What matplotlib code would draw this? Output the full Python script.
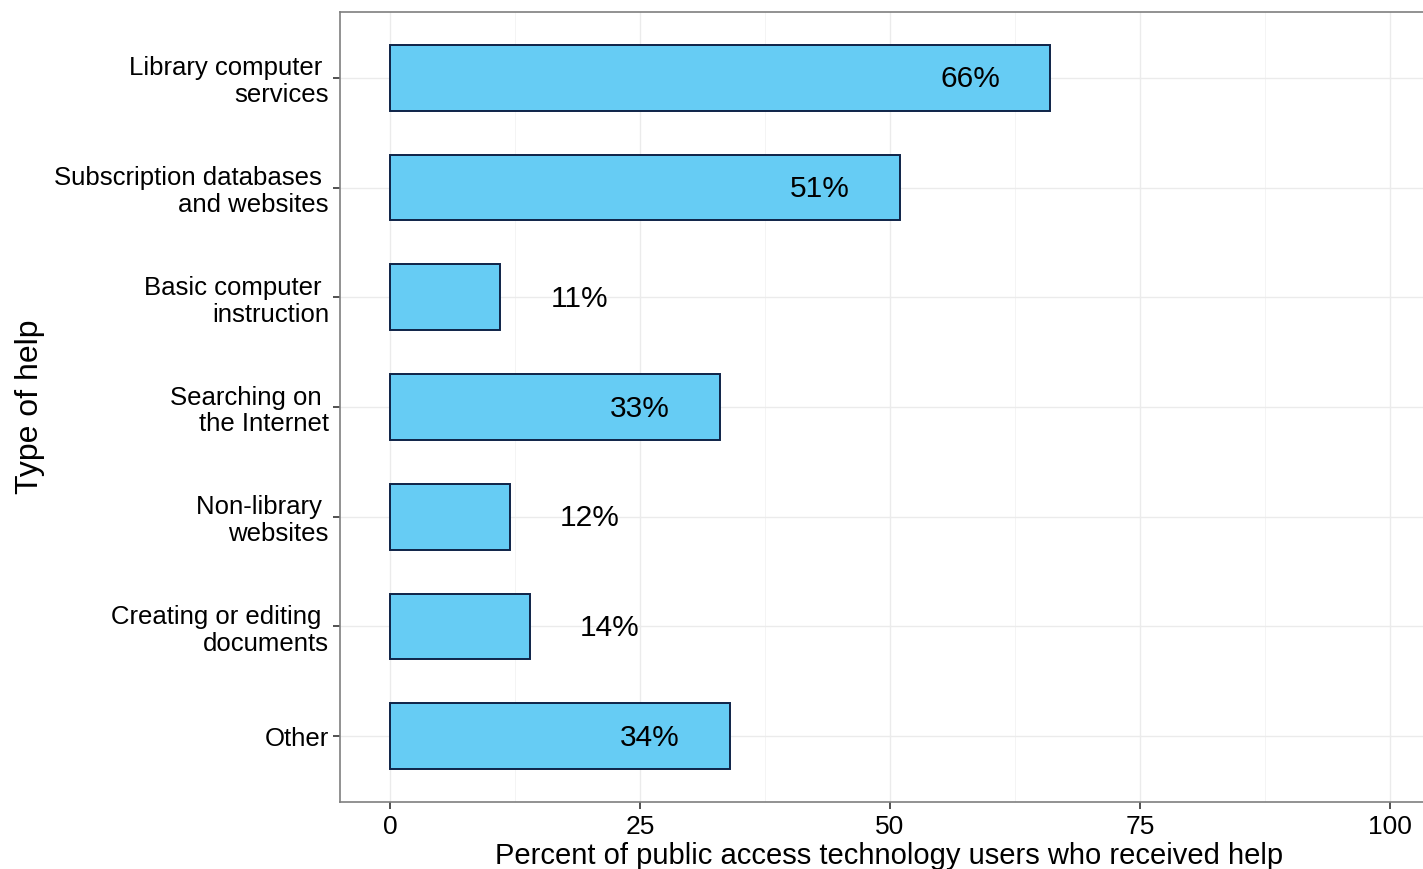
import numpy as np
import matplotlib.pyplot as plt

# Data
categories = ["Library computer \nservices",
              "Subscription databases \nand websites",
              "Basic computer \ninstruction",
              "Searching on \nthe Internet",
              "Non-library \nwebsites",
              "Creating or editing \ndocuments",
              "Other"]
values = [66, 51, 11, 33, 12, 14, 34]
labels = ["66%", "51%", "11%", "33%", "12%", "14%", "34%"]
xticks = [0, 25, 50, 75, 100]

plt.rcParams['font.family'] = ['Liberation Sans', 'DejaVu Sans']

fig = plt.figure(figsize=(14.23, 8.69), dpi=100)
ax = fig.add_axes([340 / 1423, 67 / 869, 1100 / 1423, 790 / 869])

n = len(categories)
ypos = np.arange(n)[::-1] + 1

ax.barh(ypos, values, height=0.6, color='#66CCF4', edgecolor='#0E2347',
        linewidth=1.4, zorder=3)

for y, v, lab in zip(ypos, values, labels):
    # inside for long bars, outside for short ones
    x = v - 8 if v > 20 else v + 8
    ax.text(x, y - 0.015, lab, ha='center', va='center', fontsize=21.5, zorder=4)

ax.set_xlim(-5, 105)
ax.set_ylim(0.4, n + 0.6)
ax.set_xticks(xticks)
ax.set_xticks([12.5, 37.5, 62.5, 87.5], minor=True)
ax.set_yticks(ypos)
ax.set_yticklabels(categories, fontsize=18.5, linespacing=1.15)
ax.tick_params(axis='x', labelsize=19, length=5, width=1.2, color='#333333', pad=4)
ax.tick_params(axis='y', length=5, width=1.2, color='#333333', pad=3)
ax.tick_params(which='minor', length=0)

ax.grid(True, which='major', color='#EBEBEB', linewidth=1.0, zorder=0)
ax.grid(True, which='minor', axis='x', color='#F2F2F2', linewidth=0.6, zorder=0)

for s in ax.spines.values():
    s.set_color('#7F7F7F')
    s.set_linewidth(1.2)

ax.set_xlabel('Percent of public access technology users who received help',
              fontsize=21)
ax.set_ylabel('Type of help', fontsize=23)
ax.xaxis.set_label_coords((889 - 340) / 1100, -0.051)
ax.yaxis.set_label_coords(-0.268, 0.5)

fig.savefig('out.png', dpi=100)
